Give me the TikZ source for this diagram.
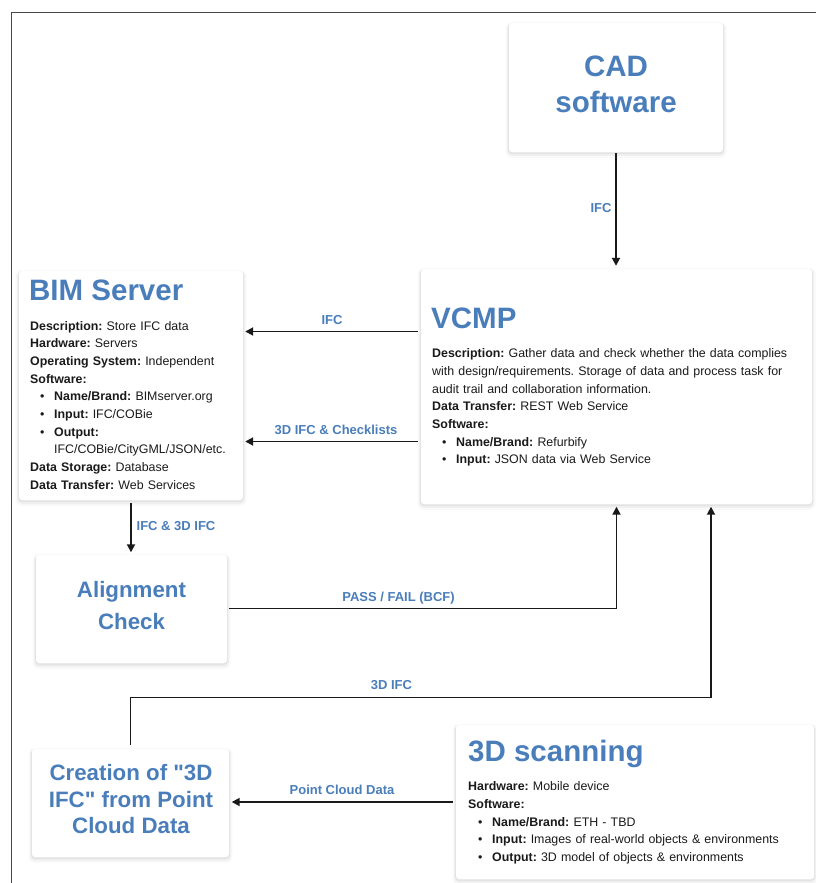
\documentclass[tikz,border=0pt]{standalone}
\usepackage{fontspec}
\setmainfont{Liberation Sans}
\usetikzlibrary{arrows.meta}
\definecolor{titleblue}{RGB}{74,126,187}
\definecolor{bodyink}{RGB}{26,26,26}
\definecolor{frameink}{RGB}{70,70,70}
\frenchspacing
\tikzset{
  softshadow/.style={
    preaction={draw=black, draw opacity=0.025, line width=7pt, transform canvas={yshift=-2.5pt}},
    preaction={draw=black, draw opacity=0.035, line width=4pt, transform canvas={yshift=-2pt}},
    preaction={draw=black, draw opacity=0.05, line width=1.6pt, transform canvas={yshift=-1.2pt}}},
  card/.style={rectangle, rounded corners=3pt, fill=white, draw=none, inner sep=0pt, softshadow},
  bigtitle/.style={inner sep=0pt, text=titleblue, font=\fontsize{29.5}{35}\selectfont\bfseries},
  midtitle/.style={inner sep=0pt, text=titleblue, font=\fontsize{22.3}{27}\selectfont\bfseries},
  body/.style={inner sep=0pt, text=bodyink, align=left, font=\fontsize{12.4}{17.7}\selectfont},
  flowlabel/.style={inner sep=0pt, text=titleblue, font=\fontsize{13}{15}\selectfont\bfseries},
  flow/.style={line width=1.8pt, draw=black!90, -{Triangle[length=8pt,width=8pt]}},
}
\newcommand\bul{\hspace*{10pt}\makebox[14pt][l]{\textbullet}}
\begin{document}
\begin{tikzpicture}[x=1pt,y=-1pt]
\useasboundingbox (0,0) rectangle (816,883);
\fill[white] (0,0) rectangle (816,883);
% outer frame
\draw[frameink, line width=1.3pt] (11.5,883) -- (11.5,12.5) -- (816,12.5);

% cards
\node[card, minimum width=214pt, minimum height=129pt] (cad) at (616,87.5) {};
\node[card, minimum width=224pt, minimum height=229pt] (bim) at (131,385.5) {};
\node[card, minimum width=391pt, minimum height=235pt] (vcmp) at (616.5,386.5) {};
\node[card, minimum width=191pt, minimum height=108pt] (align) at (131.5,609) {};
\node[card, minimum width=197pt, minimum height=108pt] (create) at (130.5,803) {};
\node[card, minimum width=358pt, minimum height=154pt] (scan) at (635,802) {};

% card titles
\node[bigtitle, anchor=base] (cadA) at (616,77) {CAD};
\node[bigtitle, anchor=base] (cadB) at (616,112) {software};
\node[bigtitle, anchor=base west] (bimT) at (29,300.7) {BIM Server};
\node[bigtitle, anchor=base west] (vcmpT) at (431,328.3) {VCMP};
\node[bigtitle, anchor=base west] (scanT) at (468,761.7) {3D scanning};
\node[midtitle, anchor=base] (alignA) at (131.5,597) {Alignment};
\node[midtitle, anchor=base] (alignB) at (131.5,629) {Check};
\node[midtitle, anchor=base] (createA) at (131,780) {Creation of \textquotedbl3D};
\node[midtitle, anchor=base] (createB) at (131,807) {IFC\textquotedbl{} from Point};
\node[midtitle, anchor=base] (createC) at (131,833) {Cloud Data};

% card bodies
\node[body, text width=210pt, anchor=base west] (bimB) at (30,330) {%
\textbf{Description:} Store IFC data\\
\textbf{Hardware:} Servers\\
\textbf{Operating System:} Independent\\
\textbf{Software:}\\
\bul\textbf{Name/Brand:} BIMserver.org\\
\bul\textbf{Input:} IFC/COBie\\
\bul\textbf{Output:}\\
\hspace*{24pt}IFC/COBie/CityGML/JSON/etc.\\
\textbf{Data Storage:} Database\\
\textbf{Data Transfer:} Web Services};

\node[body, text width=375pt, anchor=base west] (vcmpB) at (432,357.7) {%
\textbf{Description:} Gather data and check whether the data complies\\
with design/requirements. Storage of data and process task for\\
audit trail and collaboration information.\\
\textbf{Data Transfer:} REST Web Service\\
\textbf{Software:}\\
\bul\textbf{Name/Brand:} Refurbify\\
\bul\textbf{Input:} JSON data via Web Service};

\node[body, text width=340pt, anchor=base west] (scanB) at (468,790.7) {%
\textbf{Hardware:} Mobile device\\
\textbf{Software:}\\
\bul\textbf{Name/Brand:} ETH - TBD\\
\bul\textbf{Input:} Images of real-world objects \& environments\\
\bul\textbf{Output:} 3D model of objects \& environments};

% connectors
\coordinate (riseup) at (711,697.5);
\draw[flow, shorten <=1pt, shorten >=3pt] (cad.south) -- (cad.south |- vcmp.north);
\draw[flow, shorten <=3pt, shorten >=2pt] (vcmp.west |- 0,331.5) -- (bim.east |- 0,331.5);
\draw[flow, shorten <=3pt, shorten >=2pt] (vcmp.west |- 0,441.5) -- (bim.east |- 0,441.5);
\draw[flow, shorten <=3pt, shorten >=2.5pt] (bim.south) -- (bim.south |- align.north);
\draw[flow, shorten <=2pt, shorten >=2.5pt] (align.east |- 0,608.5) -| (vcmp.south);
\draw[flow, shorten <=4pt, shorten >=2.5pt] (create.north) |- (riseup) -- (riseup |- vcmp.south);
\draw[flow, shorten <=3pt, shorten >=2.5pt] (scan.west) -- (create.east |- scan.west);

% connector labels
\node[flowlabel, anchor=base] (lab1) at (601,212.7) {IFC};
\node[flowlabel, anchor=base] (lab2) at (332,324) {IFC};
\node[flowlabel, anchor=base] (lab3) at (336,434) {3D IFC \& Checklists};
\node[flowlabel, anchor=base] (lab4) at (176,530.6) {IFC \& 3D IFC};
\node[flowlabel, anchor=base] (lab5) at (398.5,601.6) {PASS / FAIL (BCF)};
\node[flowlabel, anchor=base] (lab6) at (391.5,689) {3D IFC};
\node[flowlabel, anchor=base] (lab7) at (342,794.7) {Point Cloud Data};
\end{tikzpicture}
\end{document}
